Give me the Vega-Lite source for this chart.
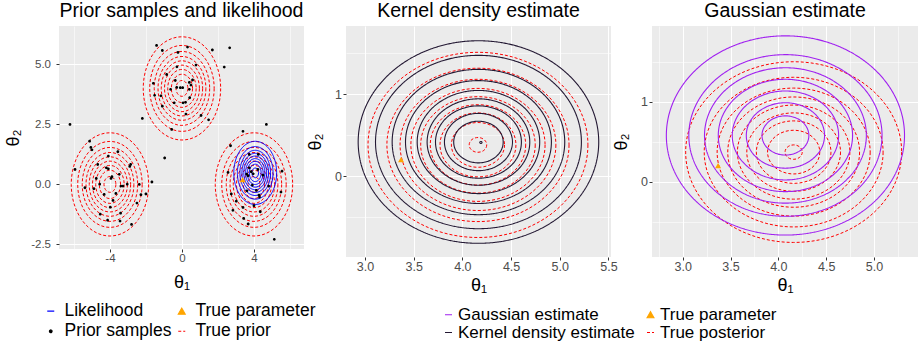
{
  "$schema": "https://vega.github.io/schema/vega-lite/v6.json",
  "background": "white",
  "padding": {"left": 4, "top": 0, "right": 0, "bottom": 0},
  "config": {
    "font": "Liberation Sans",
    "view": {"stroke": null, "fill": "#EBEBEB"},
    "title": {"fontSize": 19.5, "fontWeight": "normal", "font": "Liberation Sans", "color": "black", "anchor": "middle", "offset": 5},
    "axis": {"domain": false, "tickColor": "#333333", "tickSize": 3, "tickWidth": 1, "labelColor": "#4D4D4D", "labelFont": "Liberation Sans", "titleFont": "Liberation Sans", "titleFontWeight": "normal", "titleColor": "black", "titleFontSize": 18, "gridColor": "white", "labelOverlap": false, "labelFlush": false, "labelPadding": 0, "titlePadding": 4},
    "legend": {"labelFont": "Liberation Sans", "labelColor": "black", "labelLimit": 0}
  },
  "bounds": "flush",
  "spacing": 42,
  "resolve": {"scale": {"size": "independent", "stroke": "independent", "fill": "independent", "shape": "independent", "strokeDash": "independent"}},
  "hconcat": [
    {
      "width": 245,
      "height": 223,
      "title": "Prior samples and likelihood",
      "layer": [
        {
          "data": {"values": [
            {"s": "True prior", "x": -4, "y": 0, "r": 2.15}, {"s": "True prior", "x": -4, "y": 0, "r": 1.79}, {"s": "True prior", "x": -4, "y": 0, "r": 1.54}, {"s": "True prior", "x": -4, "y": 0, "r": 1.33}, {"s": "True prior", "x": -4, "y": 0, "r": 1.15}, {"s": "True prior", "x": -4, "y": 0, "r": 0.97}, {"s": "True prior", "x": -4, "y": 0, "r": 0.79}, {"s": "True prior", "x": -4, "y": 0, "r": 0.59}, {"s": "True prior", "x": -4, "y": 0, "r": 0.33},
            {"s": "True prior", "x": 0, "y": 4, "r": 2.15}, {"s": "True prior", "x": 0, "y": 4, "r": 1.79}, {"s": "True prior", "x": 0, "y": 4, "r": 1.54}, {"s": "True prior", "x": 0, "y": 4, "r": 1.33}, {"s": "True prior", "x": 0, "y": 4, "r": 1.15}, {"s": "True prior", "x": 0, "y": 4, "r": 0.97}, {"s": "True prior", "x": 0, "y": 4, "r": 0.79}, {"s": "True prior", "x": 0, "y": 4, "r": 0.59}, {"s": "True prior", "x": 0, "y": 4, "r": 0.33},
            {"s": "True prior", "x": 4, "y": 0, "r": 2.15}, {"s": "True prior", "x": 4, "y": 0, "r": 1.79}, {"s": "True prior", "x": 4, "y": 0, "r": 1.54}, {"s": "True prior", "x": 4, "y": 0, "r": 1.33}, {"s": "True prior", "x": 4, "y": 0, "r": 1.15}, {"s": "True prior", "x": 4, "y": 0, "r": 0.97}, {"s": "True prior", "x": 4, "y": 0, "r": 0.79}, {"s": "True prior", "x": 4, "y": 0, "r": 0.59}, {"s": "True prior", "x": 4, "y": 0, "r": 0.33}
          ]},
          "mark": {"type": "point", "shape": "M1,0C1,0.7364 0.5523,1.3333 0,1.3333C-0.5523,1.3333 -1,0.7364 -1,0C-1,-0.7364 -0.5523,-1.3333 0,-1.3333C0.5523,-1.3333 1,-0.7364 1,0Z", "filled": false, "strokeWidth": 1, "opacity": 1, "clip": true},
          "encoding": {
            "x": {"field": "x", "type": "quantitative", "title": "θ₁", "scale": {"domain": [-6.83, 6.78], "nice": false, "zero": false},
              "axis": {"values": [-4, 0, 4, -6, -2, 2, 6], "labelFontSize": 11.5, "labelPadding": 0.5, "titlePadding": 9,
                "gridWidth": {"condition": {"test": "abs(datum.value % 4) < 0.01", "value": 1.1}, "value": 0.55},
                "tickOpacity": {"condition": {"test": "abs(datum.value % 4) < 0.01", "value": 1}, "value": 0},
                "labelExpr": "abs(datum.value % 4) < 0.01 ? replace(format(datum.value, 'd'), '\u2212', '-') : ''"}},
            "y": {"field": "y", "type": "quantitative", "title": "θ₂", "scale": {"domain": [-2.692, 6.6], "nice": false, "zero": false},
              "axis": {"values": [-2.5, 0, 2.5, 5, -1.25, 1.25, 3.75, 6.25], "labelFontSize": 11.5, "labelPadding": 5.5, "titlePadding": 8.5,
                "gridWidth": {"condition": {"test": "abs(datum.value / 2.5 - round(datum.value / 2.5)) < 0.01", "value": 1.1}, "value": 0.55},
                "tickOpacity": {"condition": {"test": "abs(datum.value / 2.5 - round(datum.value / 2.5)) < 0.01", "value": 1}, "value": 0},
                "labelExpr": "abs(datum.value / 2.5 - round(datum.value / 2.5)) < 0.01 ? replace(format(datum.value, '.1f'), '\u2212', '-') : ''"}},
            "size": {"field": "r", "type": "quantitative", "scale": {"type": "pow", "exponent": 2, "domain": [0, 3], "range": [0, 11664]}, "legend": null},
            "stroke": {"field": "s", "type": "nominal", "scale": {"domain": ["Likelihood", "Prior samples", "True parameter", "True prior"], "range": ["#0000FF", "black", "#FFA500", "#FF0000"]},
              "legend": {"title": null, "orient": "none", "legendX": -17, "legendY": 276, "columns": 2, "symbolSize": 49, "symbolStrokeWidth": 1.1, "labelFontSize": 17.5, "labelOffset": 5, "rowPadding": 1.5, "columnPadding": 1}},
            "strokeDash": {"field": "s", "type": "nominal", "scale": {"domain": ["Likelihood", "Prior samples", "True parameter", "True prior"], "range": [[1, 0], [1, 0], [1, 0], [3, 2]]},
              "legend": {"title": null, "orient": "none", "legendX": -17, "legendY": 276, "columns": 2, "symbolSize": 49, "symbolStrokeWidth": 1.1, "labelFontSize": 17.5, "labelOffset": 5, "rowPadding": 1.5, "columnPadding": 1}}
          }
        },
        {
          "data": {"values": [
            {"s": "Likelihood", "x": 4.07, "y": 0.48, "r": 1.19}, {"s": "Likelihood", "x": 4.07, "y": 0.48, "r": 0.99}, {"s": "Likelihood", "x": 4.07, "y": 0.48, "r": 0.851}, {"s": "Likelihood", "x": 4.07, "y": 0.48, "r": 0.738}, {"s": "Likelihood", "x": 4.07, "y": 0.48, "r": 0.635}, {"s": "Likelihood", "x": 4.07, "y": 0.48, "r": 0.537}, {"s": "Likelihood", "x": 4.07, "y": 0.48, "r": 0.438}, {"s": "Likelihood", "x": 4.07, "y": 0.48, "r": 0.328}, {"s": "Likelihood", "x": 4.07, "y": 0.48, "r": 0.184}
          ]},
          "mark": {"type": "point", "shape": "M1,0C1,0.8141 0.5523,1.474 0,1.474C-0.5523,1.474 -1,0.8141 -1,0C-1,-0.8141 -0.5523,-1.474 0,-1.474C0.5523,-1.474 1,-0.8141 1,0Z", "filled": false, "strokeWidth": 1, "opacity": 1, "clip": true},
          "encoding": {
            "x": {"field": "x", "type": "quantitative"},
            "y": {"field": "y", "type": "quantitative"},
            "size": {"field": "r", "type": "quantitative", "legend": null},
            "stroke": {"field": "s", "type": "nominal"},
            "strokeDash": {"field": "s", "type": "nominal"}
          }
        },
        {
          "data": {"values": [
            {"s": "Prior samples", "x": -6.22, "y": 2.5}, {"s": "Prior samples", "x": -1.41, "y": 5.79}, {"s": "Prior samples", "x": -1.09, "y": 5.58}, {"s": "Prior samples", "x": -0.22, "y": 5.5}, {"s": "Prior samples", "x": 0.31, "y": 5.72}, {"s": "Prior samples", "x": 1.69, "y": 5.6}, {"s": "Prior samples", "x": 2.65, "y": 5.69}, {"s": "Prior samples", "x": 2.35, "y": 4.89}, {"s": "Prior samples", "x": 0.78, "y": 4.97}, {"s": "Prior samples", "x": -0.28, "y": 4.9}, {"s": "Prior samples", "x": -0.85, "y": 4.58}, {"s": "Prior samples", "x": -1.59, "y": 4.21}, {"s": "Prior samples", "x": -0.37, "y": 4.33}, {"s": "Prior samples", "x": 0.41, "y": 4.25}, {"s": "Prior samples", "x": 0.59, "y": 4.35}, {"s": "Prior samples", "x": 0.5, "y": 4.14}, {"s": "Prior samples", "x": -0.29, "y": 4.04}, {"s": "Prior samples", "x": -0.09, "y": 4.03}, {"s": "Prior samples", "x": 0.04, "y": 4.03}, {"s": "Prior samples", "x": -0.63, "y": 3.96}, {"s": "Prior samples", "x": 0.41, "y": 3.96}, {"s": "Prior samples", "x": -1.52, "y": 3.71}, {"s": "Prior samples", "x": -1.17, "y": 3.69}, {"s": "Prior samples", "x": 0.43, "y": 3.61}, {"s": "Prior samples", "x": -0.43, "y": 3.4}, {"s": "Prior samples", "x": 0.06, "y": 3.4}, {"s": "Prior samples", "x": 0.2, "y": 3.42}, {"s": "Prior samples", "x": -1.09, "y": 3.26}, {"s": "Prior samples", "x": 0.22, "y": 2.93}, {"s": "Prior samples", "x": 1.06, "y": 2.87}, {"s": "Prior samples", "x": -2.2, "y": 2.75}, {"s": "Prior samples", "x": 1.48, "y": 2.69}, {"s": "Prior samples", "x": 3.39, "y": 2.21}, {"s": "Prior samples", "x": 4.69, "y": 2.5}, {"s": "Prior samples", "x": -0.57, "y": 2.29}, {"s": "Prior samples", "x": -0.96, "y": 1.1},
            {"s": "Prior samples", "x": -5.13, "y": 1.8}, {"s": "Prior samples", "x": -5.06, "y": 1.54}, {"s": "Prior samples", "x": -5.0, "y": 1.44}, {"s": "Prior samples", "x": -3.56, "y": 1.36}, {"s": "Prior samples", "x": -4.09, "y": 1.18}, {"s": "Prior samples", "x": -5.94, "y": 0.62}, {"s": "Prior samples", "x": -4.68, "y": 0.83}, {"s": "Prior samples", "x": -4.2, "y": 0.69}, {"s": "Prior samples", "x": -4.09, "y": 0.65}, {"s": "Prior samples", "x": -2.85, "y": 0.83}, {"s": "Prior samples", "x": -2.9, "y": 0.75}, {"s": "Prior samples", "x": -3.48, "y": 0.42}, {"s": "Prior samples", "x": -3.89, "y": 0.32}, {"s": "Prior samples", "x": -3.94, "y": 0.25}, {"s": "Prior samples", "x": -4.76, "y": 0.25}, {"s": "Prior samples", "x": -4.57, "y": 0.01}, {"s": "Prior samples", "x": -3.04, "y": 0.01}, {"s": "Prior samples", "x": -3.39, "y": -0.07}, {"s": "Prior samples", "x": -3.28, "y": -0.07}, {"s": "Prior samples", "x": -2.37, "y": 0.0}, {"s": "Prior samples", "x": -1.67, "y": 0.1}, {"s": "Prior samples", "x": -5.39, "y": -0.14}, {"s": "Prior samples", "x": -4.89, "y": -0.18}, {"s": "Prior samples", "x": -4.32, "y": -0.42}, {"s": "Prior samples", "x": -3.67, "y": -0.38}, {"s": "Prior samples", "x": -2.28, "y": -0.43}, {"s": "Prior samples", "x": -2.0, "y": -0.4}, {"s": "Prior samples", "x": -3.83, "y": -0.67}, {"s": "Prior samples", "x": -2.5, "y": -0.78}, {"s": "Prior samples", "x": -3.98, "y": -0.95}, {"s": "Prior samples", "x": -3.41, "y": -1.2}, {"s": "Prior samples", "x": -4.54, "y": -1.24}, {"s": "Prior samples", "x": -4.13, "y": -1.49}, {"s": "Prior samples", "x": -3.44, "y": -1.53}, {"s": "Prior samples", "x": -2.8, "y": -1.67},
            {"s": "Prior samples", "x": 2.7, "y": 1.61}, {"s": "Prior samples", "x": 3.74, "y": 1.25}, {"s": "Prior samples", "x": 4.24, "y": 1.25}, {"s": "Prior samples", "x": 2.56, "y": 0.5}, {"s": "Prior samples", "x": 3.74, "y": 0.69}, {"s": "Prior samples", "x": 4.22, "y": 0.62}, {"s": "Prior samples", "x": 3.85, "y": 0.53}, {"s": "Prior samples", "x": 3.59, "y": 0.43}, {"s": "Prior samples", "x": 3.96, "y": 0.44}, {"s": "Prior samples", "x": 4.5, "y": 0.38}, {"s": "Prior samples", "x": 5.56, "y": 0.55}, {"s": "Prior samples", "x": 3.67, "y": 0.36}, {"s": "Prior samples", "x": 3.91, "y": -0.03}, {"s": "Prior samples", "x": 4.82, "y": -0.07}, {"s": "Prior samples", "x": 3.61, "y": -0.27}, {"s": "Prior samples", "x": 4.13, "y": -0.25}, {"s": "Prior samples", "x": 5.5, "y": -0.32}, {"s": "Prior samples", "x": 2.74, "y": -0.4}, {"s": "Prior samples", "x": 4.28, "y": -0.45}, {"s": "Prior samples", "x": 4.31, "y": -0.53}, {"s": "Prior samples", "x": 3.02, "y": -0.7}, {"s": "Prior samples", "x": 4.0, "y": -0.89}, {"s": "Prior samples", "x": 3.39, "y": -0.96}, {"s": "Prior samples", "x": 2.83, "y": -1.08}, {"s": "Prior samples", "x": 4.35, "y": -1.14}, {"s": "Prior samples", "x": 3.43, "y": -1.42}, {"s": "Prior samples", "x": 3.68, "y": -1.65}, {"s": "Prior samples", "x": 5.13, "y": -2.29}
          ]},
          "mark": {"type": "point", "filled": true, "size": 53, "opacity": 1},
          "encoding": {
            "x": {"field": "x", "type": "quantitative"},
            "y": {"field": "y", "type": "quantitative"},
            "fill": {"field": "s", "type": "nominal", "scale": {"domain": ["Likelihood", "Prior samples", "True parameter", "True prior"], "range": ["transparent", "black", "#FFA500", "transparent"]},
              "legend": {"title": null, "orient": "none", "legendX": -17, "legendY": 276, "columns": 2, "symbolSize": 49, "symbolStrokeWidth": 1.1, "labelFontSize": 17.5, "labelOffset": 5, "rowPadding": 1.5, "columnPadding": 1}},
            "shape": {"field": "s", "type": "nominal", "scale": {"domain": ["Likelihood", "Prior samples", "True parameter", "True prior"], "range": ["M-1,0L1,0", "M0.385,0C0.385,0.2126 0.2126,0.385 0,0.385C-0.2126,0.385 -0.385,0.2126 -0.385,0C-0.385,-0.2126 -0.2126,-0.385 0,-0.385C0.2126,-0.385 0.385,-0.2126 0.385,0Z", "triangle-up", "M-1,0L1,0"]},
              "legend": {"title": null, "orient": "none", "legendX": -17, "legendY": 276, "columns": 2, "symbolSize": 49, "symbolStrokeWidth": 1.1, "labelFontSize": 17.5, "labelOffset": 5, "rowPadding": 1.5, "columnPadding": 1}}
          }
        },
        {
          "data": {"values": [{"s": "True parameter", "x": 3.37, "y": 0.2}]},
          "mark": {"type": "point", "filled": true, "size": 36, "opacity": 1},
          "encoding": {
            "x": {"field": "x", "type": "quantitative"},
            "y": {"field": "y", "type": "quantitative"},
            "fill": {"field": "s", "type": "nominal"},
            "shape": {"field": "s", "type": "nominal"}
          }
        }
      ]
    },
    {
      "bounds": "flush",
      "spacing": 41,
      "resolve": {"scale": {"size": "independent"}},
      "hconcat": [
        {
          "width": 265,
          "height": 231,
          "title": "Kernel density estimate",
          "layer": [
            {
              "data": {"values": [
                {"s": "True posterior", "x": 4.16, "y": 0.38, "r": 1.129}, {"s": "True posterior", "x": 4.16, "y": 0.38, "r": 0.935}, {"s": "True posterior", "x": 4.16, "y": 0.38, "r": 0.8}, {"s": "True posterior", "x": 4.16, "y": 0.38, "r": 0.689}, {"s": "True posterior", "x": 4.16, "y": 0.38, "r": 0.588}, {"s": "True posterior", "x": 4.16, "y": 0.38, "r": 0.49}, {"s": "True posterior", "x": 4.16, "y": 0.38, "r": 0.39}, {"s": "True posterior", "x": 4.16, "y": 0.38, "r": 0.273}, {"s": "True posterior", "x": 4.16, "y": 0.38, "r": 0.09}
              ]},
              "mark": {"type": "point", "shape": "M1,0C1,0.465 0.5523,0.842 0,0.842C-0.5523,0.842 -1,0.465 -1,0C-1,-0.465 -0.5523,-0.842 0,-0.842C0.5523,-0.842 1,-0.465 1,0Z", "filled": false, "strokeWidth": 1, "opacity": 1, "clip": true},
              "encoding": {
                "x": {"field": "x", "type": "quantitative", "title": "θ₁", "scale": {"domain": [2.805, 5.526], "nice": false, "zero": false},
                  "axis": {"values": [3, 3.5, 4, 4.5, 5, 5.5, 3.25, 3.75, 4.25, 4.75, 5.25], "labelFontSize": 12.5, "titlePadding": 4,
                    "gridWidth": {"condition": {"test": "abs(datum.value * 2 - round(datum.value * 2)) < 0.01", "value": 1.1}, "value": 0.55},
                    "tickOpacity": {"condition": {"test": "abs(datum.value * 2 - round(datum.value * 2)) < 0.01", "value": 1}, "value": 0},
                    "labelExpr": "abs(datum.value * 2 - round(datum.value * 2)) < 0.01 ? format(datum.value, '.1f') : ''"}},
                "y": {"field": "y", "type": "quantitative", "title": "θ₂", "scale": {"domain": [-0.987, 1.83], "nice": false, "zero": false},
                  "axis": {"values": [0, 1, -0.5, 0.5, 1.5], "labelFontSize": 12.5, "labelPadding": 1.5, "titlePadding": 10,
                    "gridWidth": {"condition": {"test": "abs(datum.value - round(datum.value)) < 0.01", "value": 1.1}, "value": 0.55},
                    "tickOpacity": {"condition": {"test": "abs(datum.value - round(datum.value)) < 0.01", "value": 1}, "value": 0},
                    "labelExpr": "abs(datum.value - round(datum.value)) < 0.01 ? format(datum.value, 'd') : ''"}},
                "size": {"field": "r", "type": "quantitative", "scale": {"type": "pow", "exponent": 2, "domain": [0, 2], "range": [0, 151757]}, "legend": null},
                "stroke": {"field": "s", "type": "nominal", "scale": {"domain": ["Gaussian estimate", "Kernel density estimate", "True parameter", "True posterior"], "range": ["#A020F0", "#231833", "#FFA500", "#FF0000"]},
                  "legend": {"title": null, "orient": "none", "legendX": 94, "legendY": 280, "columns": 2, "symbolSize": 49, "symbolStrokeWidth": 1.1, "labelFontSize": 17, "labelOffset": 1, "rowPadding": 0, "columnPadding": 7}},
                "strokeDash": {"field": "s", "type": "nominal", "scale": {"domain": ["Gaussian estimate", "Kernel density estimate", "True parameter", "True posterior"], "range": [[1, 0], [1, 0], [1, 0], [3, 2]]},
                  "legend": {"title": null, "orient": "none", "legendX": 94, "legendY": 280, "columns": 2, "symbolSize": 49, "symbolStrokeWidth": 1.1, "labelFontSize": 17, "labelOffset": 1, "rowPadding": 0, "columnPadding": 7}}
              }
            },
            {
              "data": {"values": [
                {"s": "Kernel density estimate", "x": 4.165, "y": 0.415, "r": 1.235}, {"s": "Kernel density estimate", "x": 4.165, "y": 0.415, "r": 1.057}, {"s": "Kernel density estimate", "x": 4.165, "y": 0.415, "r": 0.886}, {"s": "Kernel density estimate", "x": 4.165, "y": 0.415, "r": 0.749}, {"s": "Kernel density estimate", "x": 4.165, "y": 0.415, "r": 0.629}, {"s": "Kernel density estimate", "x": 4.165, "y": 0.415, "r": 0.527}, {"s": "Kernel density estimate", "x": 4.165, "y": 0.415, "r": 0.441}, {"s": "Kernel density estimate", "x": 4.165, "y": 0.415, "r": 0.349}, {"s": "Kernel density estimate", "x": 4.165, "y": 0.415, "r": 0.254}, {"s": "Kernel density estimate", "x": 4.19, "y": 0.41, "r": 0.012}
              ]},
              "mark": {"type": "point", "shape": "M1,0C1,0.465 0.5523,0.842 0,0.842C-0.5523,0.842 -1,0.465 -1,0C-1,-0.465 -0.5523,-0.842 0,-0.842C0.5523,-0.842 1,-0.465 1,0Z", "filled": false, "strokeWidth": 1.1, "opacity": 1, "clip": true},
              "encoding": {
                "x": {"field": "x", "type": "quantitative"},
                "y": {"field": "y", "type": "quantitative"},
                "size": {"field": "r", "type": "quantitative", "legend": null},
                "stroke": {"field": "s", "type": "nominal"},
                "strokeDash": {"field": "s", "type": "nominal"}
              }
            },
            {
              "data": {"values": [{"s": "True parameter", "x": 3.37, "y": 0.2}]},
              "mark": {"type": "point", "filled": true, "size": 36, "opacity": 1},
              "encoding": {
                "x": {"field": "x", "type": "quantitative"},
                "y": {"field": "y", "type": "quantitative"},
                "fill": {"field": "s", "type": "nominal", "scale": {"domain": ["Gaussian estimate", "Kernel density estimate", "True parameter", "True posterior"], "range": ["transparent", "transparent", "#FFA500", "transparent"]},
                  "legend": {"title": null, "orient": "none", "legendX": 94, "legendY": 280, "columns": 2, "symbolSize": 49, "symbolStrokeWidth": 1.1, "labelFontSize": 17, "labelOffset": 1, "rowPadding": 0, "columnPadding": 7}},
                "shape": {"field": "s", "type": "nominal", "scale": {"domain": ["Gaussian estimate", "Kernel density estimate", "True parameter", "True posterior"], "range": ["M-1,0L1,0", "M-1,0L1,0", "triangle-up", "M-1,0L1,0"]},
                  "legend": {"title": null, "orient": "none", "legendX": 94, "legendY": 280, "columns": 2, "symbolSize": 49, "symbolStrokeWidth": 1.1, "labelFontSize": 17, "labelOffset": 1, "rowPadding": 0, "columnPadding": 7}}
              }
            }
          ]
        },
        {
          "width": 266,
          "height": 231,
          "title": "Gaussian estimate",
          "resolve": {"axis": {"x": "independent"}},
          "layer": [
            {
              "data": {"values": [
                {"s": "True posterior", "x": 4.16, "y": 0.37, "r": 1.129}, {"s": "True posterior", "x": 4.16, "y": 0.37, "r": 0.935}, {"s": "True posterior", "x": 4.16, "y": 0.37, "r": 0.8}, {"s": "True posterior", "x": 4.16, "y": 0.37, "r": 0.689}, {"s": "True posterior", "x": 4.16, "y": 0.37, "r": 0.588}, {"s": "True posterior", "x": 4.16, "y": 0.37, "r": 0.49}, {"s": "True posterior", "x": 4.16, "y": 0.37, "r": 0.39}, {"s": "True posterior", "x": 4.16, "y": 0.37, "r": 0.273}, {"s": "True posterior", "x": 4.16, "y": 0.37, "r": 0.09}
              ]},
              "mark": {"type": "point", "shape": "M1,0C1,0.4617 0.5523,0.8365 0,0.8365C-0.5523,0.8365 -1,0.4617 -1,0C-1,-0.4617 -0.5523,-0.8365 0,-0.8365C0.5523,-0.8365 1,-0.4617 1,0Z", "filled": false, "strokeWidth": 1, "opacity": 1, "clip": true},
              "encoding": {
                "x": {"field": "x", "type": "quantitative", "title": "θ₁", "scale": {"domain": [2.679, 5.46], "nice": false, "zero": false},
                  "axis": {"orient": "bottom", "values": [3, 3.5, 4, 4.5, 5], "format": ".1f", "labelFontSize": 12.5, "titlePadding": 4, "gridWidth": 1.1}},
                "y": {"field": "y", "type": "quantitative", "title": "θ₂", "scale": {"domain": [-0.941, 1.946], "nice": false, "zero": false},
                  "axis": {"values": [0, 1, -0.5, 0.5, 1.5], "labelFontSize": 12.5, "labelPadding": 1.5, "titlePadding": 10,
                    "gridWidth": {"condition": {"test": "abs(datum.value - round(datum.value)) < 0.01", "value": 1.1}, "value": 0.55},
                    "tickOpacity": {"condition": {"test": "abs(datum.value - round(datum.value)) < 0.01", "value": 1}, "value": 0},
                    "labelExpr": "abs(datum.value - round(datum.value)) < 0.01 ? format(datum.value, 'd') : ''"}},
                "size": {"field": "r", "type": "quantitative", "scale": {"type": "pow", "exponent": 2, "domain": [0, 2], "range": [0, 146382]}, "legend": null},
                "stroke": {"field": "s", "type": "nominal", "scale": {"domain": ["Gaussian estimate", "Kernel density estimate", "True parameter", "True posterior"], "range": ["#A020F0", "#231833", "#FFA500", "#FF0000"]},
                  "legend": {"title": null, "orient": "none", "legendX": 94, "legendY": 280, "columns": 2, "symbolSize": 49, "symbolStrokeWidth": 1.1, "labelFontSize": 17, "labelOffset": 1, "rowPadding": 0, "columnPadding": 7}},
                "strokeDash": {"field": "s", "type": "nominal", "scale": {"domain": ["Gaussian estimate", "Kernel density estimate", "True parameter", "True posterior"], "range": [[1, 0], [1, 0], [1, 0], [3, 2]]},
                  "legend": {"title": null, "orient": "none", "legendX": 94, "legendY": 280, "columns": 2, "symbolSize": 49, "symbolStrokeWidth": 1.1, "labelFontSize": 17, "labelOffset": 1, "rowPadding": 0, "columnPadding": 7}}
              }
            },
            {
              "data": {"values": [
                {"s": "Gaussian estimate", "x": 4.074, "y": 0.578, "r": 1.245}, {"s": "Gaussian estimate", "x": 4.074, "y": 0.578, "r": 1.01}, {"s": "Gaussian estimate", "x": 4.074, "y": 0.578, "r": 0.846}, {"s": "Gaussian estimate", "x": 4.074, "y": 0.578, "r": 0.702}, {"s": "Gaussian estimate", "x": 4.074, "y": 0.578, "r": 0.556}, {"s": "Gaussian estimate", "x": 4.074, "y": 0.578, "r": 0.409}, {"s": "Gaussian estimate", "x": 4.074, "y": 0.578, "r": 0.245}
              ]},
              "mark": {"type": "point", "shape": "M1,0C1,0.4617 0.5523,0.8365 0,0.8365C-0.5523,0.8365 -1,0.4617 -1,0C-1,-0.4617 -0.5523,-0.8365 0,-0.8365C0.5523,-0.8365 1,-0.4617 1,0Z", "filled": false, "strokeWidth": 1.1, "opacity": 1, "clip": true},
              "encoding": {
                "x": {"field": "x", "type": "quantitative", "axis": {"orient": "top", "values": [2.75, 3.25, 3.75, 4.25, 4.75, 5.25], "grid": true, "gridWidth": 0.55, "labels": false, "ticks": false, "domain": false, "title": null}},
                "y": {"field": "y", "type": "quantitative"},
                "size": {"field": "r", "type": "quantitative", "legend": null},
                "stroke": {"field": "s", "type": "nominal"},
                "strokeDash": {"field": "s", "type": "nominal"}
              }
            },
            {
              "data": {"values": [{"s": "True parameter", "x": 3.37, "y": 0.2}]},
              "mark": {"type": "point", "filled": true, "size": 36, "opacity": 1},
              "encoding": {
                "x": {"field": "x", "type": "quantitative", "axis": null},
                "y": {"field": "y", "type": "quantitative"},
                "fill": {"field": "s", "type": "nominal", "scale": {"domain": ["Gaussian estimate", "Kernel density estimate", "True parameter", "True posterior"], "range": ["transparent", "transparent", "#FFA500", "transparent"]},
                  "legend": {"title": null, "orient": "none", "legendX": 94, "legendY": 280, "columns": 2, "symbolSize": 49, "symbolStrokeWidth": 1.1, "labelFontSize": 17, "labelOffset": 1, "rowPadding": 0, "columnPadding": 7}},
                "shape": {"field": "s", "type": "nominal", "scale": {"domain": ["Gaussian estimate", "Kernel density estimate", "True parameter", "True posterior"], "range": ["M-1,0L1,0", "M-1,0L1,0", "triangle-up", "M-1,0L1,0"]},
                  "legend": {"title": null, "orient": "none", "legendX": 94, "legendY": 280, "columns": 2, "symbolSize": 49, "symbolStrokeWidth": 1.1, "labelFontSize": 17, "labelOffset": 1, "rowPadding": 0, "columnPadding": 7}}
              }
            }
          ]
        }
      ]
    }
  ]
}
